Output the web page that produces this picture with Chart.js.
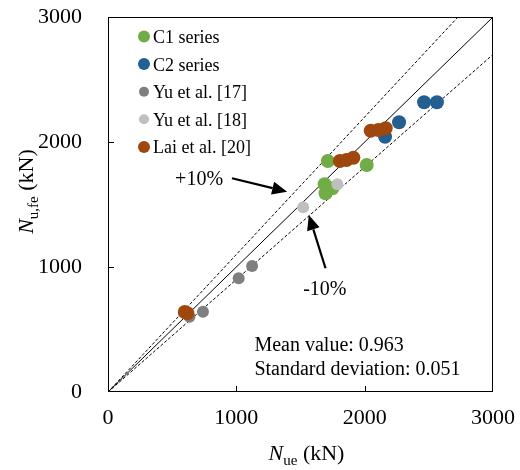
<!DOCTYPE html>
<html>
<head>
<meta charset="utf-8">
<script src="https://cdn.jsdelivr.net/npm/chart.js@4.4.1/dist/chart.umd.min.js"></script>
<style>
  html, body { margin: 0; padding: 0; background: #fff; }
  #wrap { width: 520px; height: 470px; }
</style>
</head>
<body>
<div id="wrap"><canvas id="chart" width="520" height="470"></canvas></div>
<script>
// Ultimate loads: test (x) against FE prediction (y), kN
const seriesNames = ['C1 series', 'C2 series', 'Yu et al. [17]', 'Yu et al. [18]', 'Lai et al. [20]'];

const c1Test = [1713, 2016, 1688, 1695, 1748];
const c1Fe   = [1848, 1816, 1662, 1590, 1630];
const c2Test = [2463, 2563, 2268, 2159];
const c2Fe   = [2318, 2318, 2158, 2042];
const yu17Test = [1123, 1018, 740, 635];
const yu17Fe   = [1008, 910, 642, 602];
const yu18Test = [1787, 1521];
const yu18Fe   = [1662, 1478];
const laiTest = [2047, 2107, 2164, 1807, 1859, 1912, 598, 618];
const laiFe   = [2090, 2096, 2110, 1848, 1856, 1874, 640, 630];

const axisTicks = [0, 1000, 2000, 3000];
const bandRatios = [1.1, 1.0, 0.9];   // +10 %, equality, -10 %
const statLines = ['Mean value: 0.963', 'Standard deviation: 0.051'];

const axisMax = axisTicks[axisTicks.length - 1];
const serif = '"Liberation Serif", "Times New Roman", serif';

Chart.defaults.font.family = serif;
Chart.defaults.color = '#000';

const pts = (xs, ys) => xs.map((v, i) => ({ x: v, y: ys[i] }));

// style per series, same order as seriesNames
const seriesStyle = [
    { color: '#70ad47', r: 7, legendR: 6, order: 2 },
    { color: '#255e91', r: 7, legendR: 6, order: 4 },
    { color: '#7f7f7f', r: 6, legendR: 5, order: 3 },
    { color: '#bfbfbf', r: 6, legendR: 5, order: 1 },
    { color: '#9e480e', r: 7, legendR: 6, order: 0 }
];
const seriesData = [
    pts(c1Test, c1Fe), pts(c2Test, c2Fe), pts(yu17Test, yu17Fe),
    pts(yu18Test, yu18Fe), pts(laiTest, laiFe)
];

const scatterSets = seriesNames.map((name, i) => ({
    label: name,
    data: seriesData[i],
    backgroundColor: seriesStyle[i].color,
    borderWidth: 0,
    pointRadius: seriesStyle[i].r,
    pointHoverRadius: seriesStyle[i].r,
    order: seriesStyle[i].order
}));

// reference lines y = r * x, clipped to the axis box
const lineSets = bandRatios.map(r => ({
    label: 'ratio ' + r,
    data: [{ x: 0, y: 0 }, { x: Math.min(axisMax, axisMax / r), y: Math.min(axisMax, axisMax * r) }],
    showLine: true,
    borderColor: '#000',
    borderWidth: 1,
    borderDash: r === 1 ? [] : [3, 2],
    pointRadius: 0,
    order: 10
}));

// annotation placement in data units
const notes = {
    plus:  { text: '+10%', x: 523,  y: 1656, from: [966, 1710], to: [1396, 1602] },
    minus: { text: '-10%', x: 1521, y: 776,  from: [1695, 990], to: [1565, 1416] },
    stats: { x: 1141, y: [328, 136] }
};

function arrow(ctx, x0, y0, x1, y1) {
    const ang = Math.atan2(y1 - y0, x1 - x0);
    const head = 15, half = 6.5;
    const bx = x1 - head * Math.cos(ang), by = y1 - head * Math.sin(ang);
    ctx.lineWidth = 2.2;
    ctx.beginPath();
    ctx.moveTo(x0, y0);
    ctx.lineTo(bx, by);
    ctx.stroke();
    ctx.beginPath();
    ctx.moveTo(x1, y1);
    ctx.lineTo(bx + half * Math.sin(ang), by - half * Math.cos(ang));
    ctx.lineTo(bx - half * Math.sin(ang), by + half * Math.cos(ang));
    ctx.closePath();
    ctx.fill();
}

// "N_sub (kN)" with italic N and subscript
function axisTitle(ctx, sub, cx, cy, rotate) {
    const parts = [
        { t: 'N', font: 'italic 22px ' + serif, dy: 0 },
        { t: sub, font: '15px ' + serif, dy: 5 },
        { t: ' (kN)', font: '22px ' + serif, dy: 0 }
    ];
    let total = 0;
    parts.forEach(p => { ctx.font = p.font; p.w = ctx.measureText(p.t).width; total += p.w; });
    ctx.save();
    ctx.translate(cx, cy);
    if (rotate) ctx.rotate(-Math.PI / 2);
    ctx.textBaseline = 'alphabetic';
    ctx.textAlign = 'left';
    let x = -total / 2;
    parts.forEach(p => { ctx.font = p.font; ctx.fillText(p.t, x, p.dy); x += p.w; });
    ctx.restore();
}

const decorations = {
    id: 'decorations',
    afterDraw(chart) {
        const { ctx, chartArea: a, scales: { x, y } } = chart;
        ctx.save();
        ctx.strokeStyle = '#000';
        ctx.fillStyle = '#000';

        // frame and inward ticks
        ctx.lineWidth = 1;
        ctx.strokeRect(a.left + 0.5, a.top + 0.5, a.right - a.left - 1, a.bottom - a.top - 1);
        ctx.beginPath();
        axisTicks.slice(1, -1).forEach(v => {
            const px = Math.round(x.getPixelForValue(v)) + 0.5;
            ctx.moveTo(px, a.bottom); ctx.lineTo(px, a.bottom - 6);
            const py = Math.round(y.getPixelForValue(v)) + 0.5;
            ctx.moveTo(a.left, py); ctx.lineTo(a.left + 6, py);
        });
        ctx.stroke();

        // legend inside the plot, top left
        ctx.font = '18px ' + serif;
        ctx.textAlign = 'left';
        ctx.textBaseline = 'alphabetic';
        seriesNames.forEach((name, i) => {
            const base = a.top + 26 + i * 27.6;
            ctx.fillStyle = seriesStyle[i].color;
            ctx.beginPath();
            ctx.arc(a.left + 36, base - 6.5, seriesStyle[i].legendR, 0, Math.PI * 2);
            ctx.fill();
            ctx.fillStyle = '#000';
            ctx.fillText(name, a.left + 45, base);
        });

        // band labels and arrows
        ctx.font = '20px ' + serif;
        [notes.plus, notes.minus].forEach(n => {
            ctx.fillText(n.text, x.getPixelForValue(n.x), y.getPixelForValue(n.y));
            arrow(ctx,
                x.getPixelForValue(n.from[0]), y.getPixelForValue(n.from[1]),
                x.getPixelForValue(n.to[0]), y.getPixelForValue(n.to[1]));
        });

        statLines.forEach((s, i) => {
            ctx.fillText(s, x.getPixelForValue(notes.stats.x), y.getPixelForValue(notes.stats.y[i]));
        });

        // axis titles
        axisTitle(ctx, 'ue', (a.left + a.right) / 2 + 6, 460, false);
        axisTitle(ctx, 'u,fe', 33, (a.top + a.bottom) / 2 - 13, true);
        ctx.restore();
    }
};

const tickFont = { size: 22, family: serif };

new Chart(document.getElementById('chart'), {
    type: 'scatter',
    data: { datasets: [...scatterSets, ...lineSets] },
    options: {
        responsive: false,
        animation: false,
        layout: { padding: { top: 17, right: 27, left: 0, bottom: 0 } },
        plugins: { legend: { display: false }, tooltip: { enabled: false } },
        scales: {
            x: {
                type: 'linear',
                min: 0,
                max: axisMax,
                afterBuildTicks: s => { s.ticks = axisTicks.map(v => ({ value: v })); },
                afterFit: s => { s.height = 78; s.paddingLeft = 0; s.paddingRight = 0; },
                grid: { display: false, drawTicks: false },
                border: { display: false },
                ticks: { font: tickFont, color: '#000', padding: 13, maxRotation: 0, callback: v => String(v) }
            },
            y: {
                type: 'linear',
                min: 0,
                max: axisMax,
                afterBuildTicks: s => { s.ticks = axisTicks.map(v => ({ value: v })); },
                afterFit: s => { s.width = 108; s.paddingTop = 0; s.paddingBottom = 0; },
                grid: { display: false, drawTicks: false },
                border: { display: false },
                ticks: { font: tickFont, color: '#000', padding: 26, callback: v => String(v) }
            }
        }
    },
    plugins: [decorations]
});
</script>
</body>
</html>
